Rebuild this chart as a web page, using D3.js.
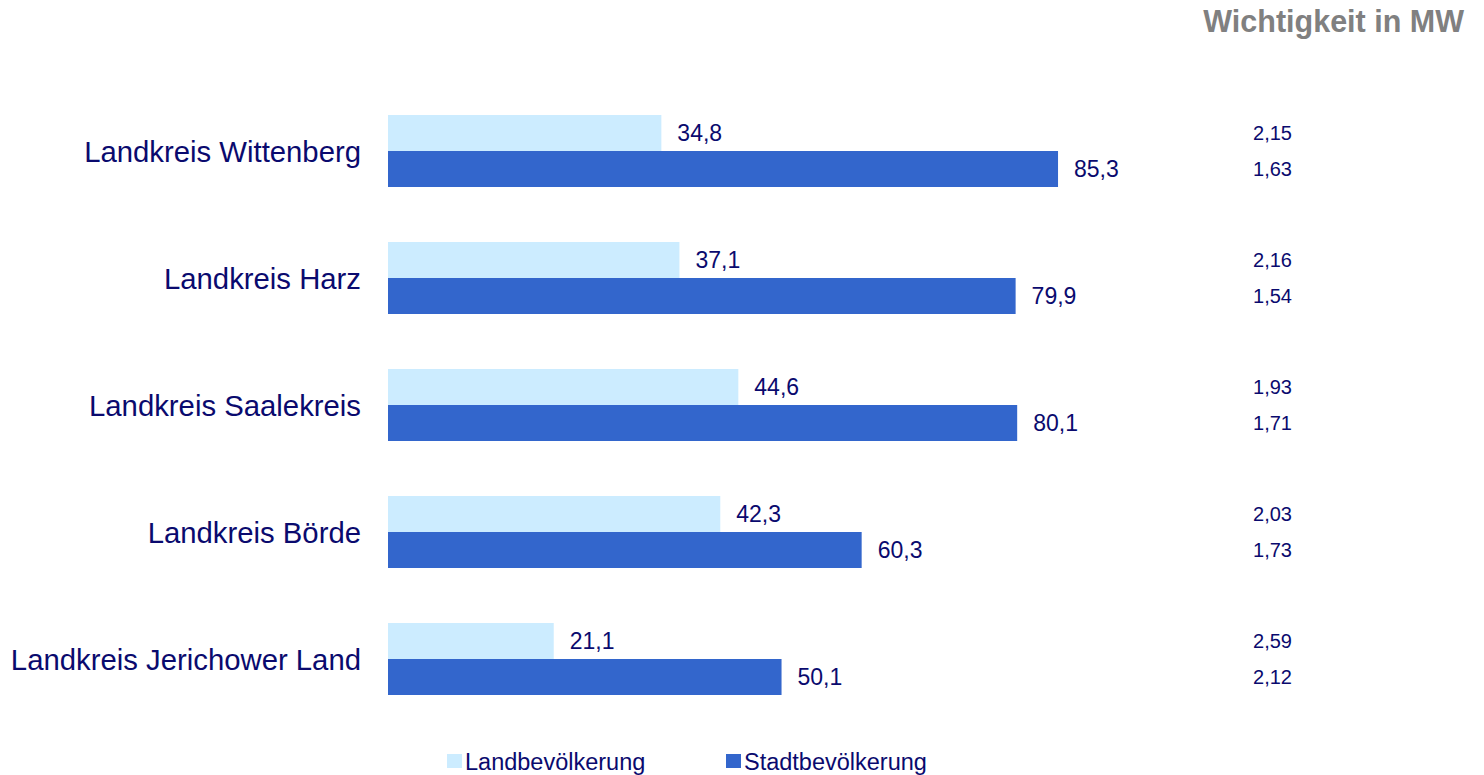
<!DOCTYPE html>
<html>
<head>
<meta charset="utf-8">
<script src="https://cdn.jsdelivr.net/npm/d3@7"></script>
<style>
  html, body { margin: 0; padding: 0; background: #ffffff; }
  svg { display: block; font-family: "Liberation Sans", Arial, sans-serif; }
</style>
</head>
<body>
<svg id="chart" width="1484" height="775"></svg>
<script>
// Regions and their shares (percent) for rural and urban population
const categories = ["Landkreis Wittenberg", "Landkreis Harz", "Landkreis Saalekreis", "Landkreis Börde", "Landkreis Jerichower Land"];
const seriesNames = ["Landbevölkerung", "Stadtbevölkerung"];
const landValues = [34.8, 37.1, 44.6, 42.3, 21.1];
const stadtValues = [85.3, 79.9, 80.1, 60.3, 50.1];
// Mean importance ("Wichtigkeit in MW") per region and series
const landMW = ["2,15", "2,16", "1,93", "2,03", "2,59"];
const stadtMW = ["1,63", "1,54", "1,71", "1,73", "2,12"];

const colors = ["#CCECFF", "#3366CC"];
const textColor = "#0A0A6E";

const svg = d3.select("#chart");
const fmt = v => d3.format(".1f")(v).replace(".", ",");

const x = d3.scaleLinear().domain([0, 100]).range([388, 388 + 785.5]);
const y = d3.scaleBand()
  .domain(categories)
  .range([87.5, 87.5 + 127 * 5])
  .paddingInner(55 / 127)
  .paddingOuter(0.5 * 55 / 127);
const ySub = d3.scaleBand().domain(seriesNames).range([0, y.bandwidth()]);

const rows = categories.map((c, i) => ({
  cat: c,
  vals: [
    { s: seriesNames[0], v: landValues[i], mw: landMW[i] },
    { s: seriesNames[1], v: stadtValues[i], mw: stadtMW[i] }
  ]
}));

const g = svg.selectAll("g.row").data(rows).join("g")
  .attr("class", "row")
  .attr("transform", d => `translate(0,${y(d.cat)})`);

// bars
g.selectAll("rect").data(d => d.vals).join("rect")
  .attr("x", x(0))
  .attr("y", d => ySub(d.s))
  .attr("width", d => x(d.v) - x(0))
  .attr("height", ySub.bandwidth())
  .attr("fill", (d, i) => colors[i]);

// value labels
g.selectAll("text.val").data(d => d.vals).join("text")
  .attr("class", "val")
  .attr("x", d => x(d.v) + 16)
  .attr("y", d => ySub(d.s) + ySub.bandwidth() / 2)
  .attr("dy", "0.36em")
  .attr("font-size", 23)
  .attr("fill", textColor)
  .text(d => fmt(d.v));

// mean values column
g.selectAll("text.mw").data(d => d.vals).join("text")
  .attr("class", "mw")
  .attr("x", 1292)
  .attr("y", d => ySub(d.s) + ySub.bandwidth() / 2)
  .attr("dy", "0.36em")
  .attr("text-anchor", "end")
  .attr("font-size", 20)
  .attr("fill", textColor)
  .text(d => d.mw);

// category axis labels
g.append("text")
  .attr("x", 361)
  .attr("y", y.bandwidth() / 2)
  .attr("dy", "0.36em")
  .attr("text-anchor", "end")
  .attr("font-size", 29.3)
  .attr("fill", textColor)
  .text(d => d.cat);

// header
svg.append("text")
  .attr("x", 1464)
  .attr("y", 32)
  .attr("text-anchor", "end")
  .attr("font-size", 30.5)
  .attr("font-weight", "bold")
  .attr("fill", "#808080")
  .text("Wichtigkeit in MW");

// legend
const legendX = [447, 726];
const lg = svg.selectAll("g.legend").data(seriesNames).join("g")
  .attr("class", "legend")
  .attr("transform", (d, i) => `translate(${legendX[i]},762)`);
lg.append("rect")
  .attr("x", 0).attr("y", -8)
  .attr("width", 15).attr("height", 14)
  .attr("fill", (d, i) => colors[i]);
lg.append("text")
  .attr("x", 18)
  .attr("y", 0)
  .attr("dy", "0.36em")
  .attr("font-size", 23.5)
  .attr("fill", textColor)
  .text(d => d);
</script>
</body>
</html>
